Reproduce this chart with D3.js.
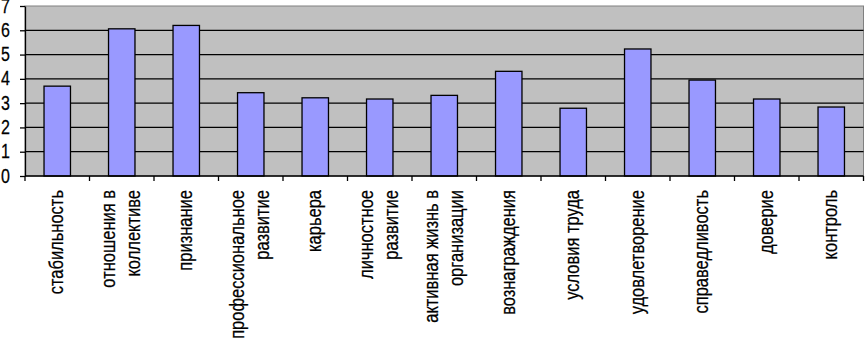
<!DOCTYPE html>
<html>
<head>
<meta charset="utf-8">
<script src="https://cdn.jsdelivr.net/npm/d3@7"></script>
<style>
  body { margin: 0; background: #fff; }
  text { font-family: "Liberation Sans", Arial, sans-serif; }
</style>
</head>
<body>
<div id="main"></div>
<script>
/* Define Size */
const width = 865, height = 338;
const margin = {left: 25, right: 1.5, top: 6, bottom: 162};

/* Define Data */
const categories = [
  "стабильность",
  "отношения в\nколлективе",
  "признание",
  "профессиональное\nразвитие",
  "карьера",
  "личностное\nразвитие",
  "активная жизнь в\nорганизации",
  "вознаграждения",
  "условия труда",
  "удовлетворение",
  "справедливость",
  "доверие",
  "контроль"
];
const values = [3.70, 6.06, 6.2, 3.43, 3.22, 3.17, 3.32, 4.31, 2.79, 5.23, 3.95, 3.17, 2.84];
const yTicks = [0, 1, 2, 3, 4, 5, 6, 7];

const svg = d3.select("#main").append("svg")
  .attr("width", width).attr("height", height);

const x = d3.scaleBand()
  .domain(categories)
  .range([margin.left, width - margin.right])
  .paddingInner(0.59)
  .paddingOuter(0.295);

const y = d3.scaleLinear()
  .domain([0, 7])
  .range([height - margin.bottom, margin.top]);

/* plot area */
svg.append("rect")
  .attr("x", margin.left).attr("y", margin.top)
  .attr("width", width - margin.right - margin.left)
  .attr("height", y(0) - margin.top)
  .attr("fill", "#c0c0c0")
  .attr("stroke", "#808080");

/* grid lines */
svg.append("g").selectAll("line")
  .data(yTicks.filter(d => d > 0 && d < 7))
  .join("line")
  .attr("x1", margin.left).attr("x2", width - margin.right)
  .attr("y1", d => y(d)).attr("y2", d => y(d))
  .attr("stroke", "#000").attr("stroke-width", 1.3);

/* bars */
svg.append("g").selectAll("rect")
  .data(values)
  .join("rect")
  .attr("x", (d, i) => x(categories[i]))
  .attr("y", d => y(d))
  .attr("width", x.bandwidth())
  .attr("height", d => y(0) - y(d))
  .attr("fill", "#9999ff")
  .attr("stroke", "#000")
  .attr("stroke-width", 1.3);

/* y axis */
const yAxis = svg.append("g")
  .attr("transform", `translate(${margin.left},0)`)
  .call(d3.axisLeft(y).tickValues(yTicks).tickFormat(d3.format("d"))
    .tickSize(5).tickPadding(10).tickSizeOuter(0));
yAxis.select(".domain").attr("stroke", "#000").attr("stroke-width", 1.3);
yAxis.selectAll(".tick line").attr("stroke", "#000").attr("stroke-width", 1.3);
yAxis.selectAll("text")
  .attr("font-size", 16).attr("fill", "#000")
  .attr("dy", "0.3em")
  .attr("transform", "scale(1,1.25)")
  .attr("stroke", "#000").attr("stroke-width", 0.2)
  .attr("font-family", "Liberation Sans, Arial, sans-serif");

/* x axis line and ticks at category boundaries */
const step = x.step();
const bounds = d3.range(categories.length + 1).map(i => margin.left + i * step);
svg.append("line")
  .attr("x1", margin.left).attr("x2", width - margin.right)
  .attr("y1", y(0)).attr("y2", y(0))
  .attr("stroke", "#000").attr("stroke-width", 1.3);
svg.append("g").selectAll("line")
  .data(bounds)
  .join("line")
  .attr("x1", d => d).attr("x2", d => d)
  .attr("y1", y(0)).attr("y2", y(0) + 5)
  .attr("stroke", "#000").attr("stroke-width", 1.3);

/* category labels, rotated (glyphs a bit taller, like the original) */
const lineH = 25;
const labels = svg.append("g").selectAll("text")
  .data(categories)
  .join("text")
  .attr("transform", d => `translate(${x(d) + x.bandwidth() / 2},${y(0) + 14}) rotate(-90) scale(1,1.2)`)
  .attr("text-anchor", "end")
  .attr("font-size", 16.5)
  .attr("fill", "#000")
  .attr("stroke", "#000").attr("stroke-width", 0.2);

labels.each(function(d) {
  const lines = d.split("\n");
  const t = d3.select(this);
  lines.forEach((ln, i) => {
    t.append("tspan")
      .attr("x", 0)
      .attr("y", (i - (lines.length - 1) / 2) * lineH / 1.2)
      .attr("dy", "0.3em")
      .text(ln);
  });
});
</script>
</body>
</html>
